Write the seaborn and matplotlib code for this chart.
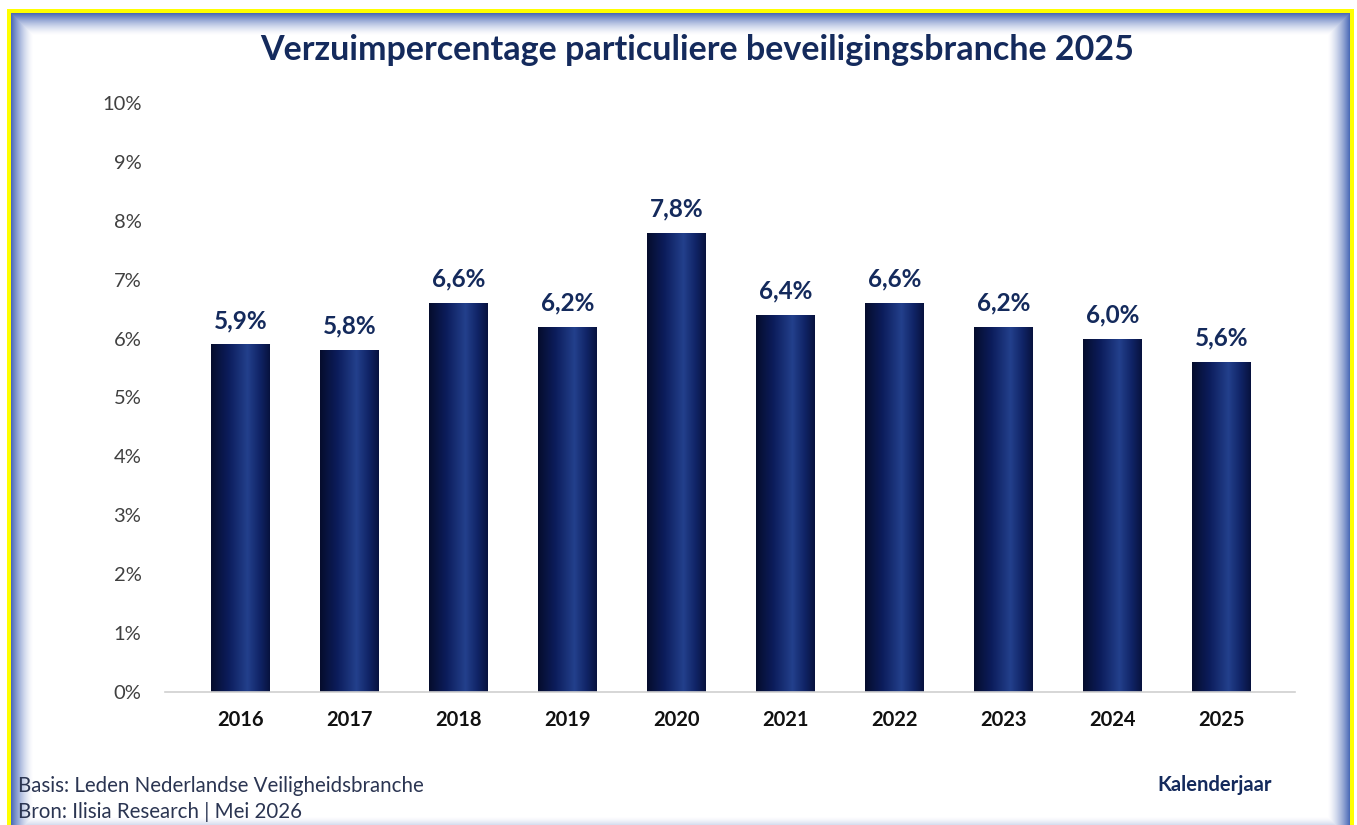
import numpy as np
import pandas as pd
import matplotlib
matplotlib.use("Agg")
import matplotlib.pyplot as plt
import seaborn as sns
from matplotlib.colors import LinearSegmentedColormap

years = ["2016", "2017", "2018", "2019", "2020", "2021", "2022", "2023", "2024", "2025"]
values = [5.9, 5.8, 6.6, 6.2, 7.8, 6.4, 6.6, 6.2, 6.0, 5.6]
value_labels = ["5,9%", "5,8%", "6,6%", "6,2%", "7,8%", "6,4%", "6,6%", "6,2%", "6,0%", "5,6%"]
yticks = [0, 1, 2, 3, 4, 5, 6, 7, 8, 9, 10]
ytick_labels = [f"{t}%" for t in yticks]
title = "Verzuimpercentage particuliere beveiligingsbranche 2025"
footer1 = "Basis: Leden Nederlandse Veiligheidsbranche"
footer2 = "Bron: Ilisia Research | Mei 2026"
xlabel = "Kalenderjaar"

NAVY = "#0d1f60"
TITLE_C = "#142a5c"

sns.set_theme(style="white")
plt.rcParams["font.family"] = ["Lato", "DejaVu Sans"]

W, H = 1357, 825
fig = plt.figure(figsize=(W / 100, H / 100), dpi=100)
fig.patch.set_facecolor("white")

# ---- background frame (yellow border + inner blue shadow) ----
bg = np.ones((H, W, 3))
yy, xx = np.mgrid[0:H, 0:W]
left, top, right, bottom = 11, 13, 1349, 838
inside = (xx >= left) & (xx <= right) & (yy >= top) & (yy <= bottom)
d = np.minimum.reduce([xx - left, yy - top, right - xx, bottom - yy]).astype(float)
shadow = np.array([0.30, 0.42, 0.72])
w = np.clip(1 - d / 22.0, 0, 1) ** 1.5
for c in range(3):
    bg[..., c] = np.where(inside, 1 - w * (1 - shadow[c]), bg[..., c])
yellow = np.array([1.0, 1.0, 0.0])
outer = (xx >= left - 4) & (xx <= right + 4) & (yy >= top - 4) & (yy <= bottom + 4) & ~inside
bg[outer] = yellow
bax = fig.add_axes([0, 0, 1, 1], zorder=0)
bax.imshow(bg, aspect="auto", extent=(0, W, H, 0))
bax.set_axis_off()

# ---- main axes ----
ax = fig.add_axes([165 / W, (H - 692) / H, (1295 - 165) / W, (692 - 103) / H], zorder=1)
ax.patch.set_alpha(0)
df = pd.DataFrame({"year": years, "value": values})
sns.barplot(data=df, x="year", y="value", color=NAVY, width=0.54, ax=ax, saturation=1)

# cylinder-like horizontal gradient inside each bar
cmap = LinearSegmentedColormap.from_list(
    "cyl", [(0.0, "#050c2c"), (0.3, "#0c1d5c"), (0.62, "#23408c"),
            (0.82, "#112568"), (1.0, "#07123e")])
grad = np.linspace(0, 1, 256).reshape(1, -1)
for p in ax.patches:
    x0, y0 = p.get_x(), p.get_y()
    im = ax.imshow(grad, cmap=cmap, aspect="auto",
                   extent=(x0, x0 + p.get_width(), y0, y0 + p.get_height()),
                   zorder=p.get_zorder() + 0.1)
    im.set_clip_path(p)
ax.set_xlim(-0.69, 9.67)
ax.set_ylim(0, 10)

for i, (v, lab) in enumerate(zip(values, value_labels)):
    ax.annotate(lab, (i, v), xytext=(0, 9), textcoords="offset points",
                ha="center", va="bottom", fontsize=17.5, fontweight="bold", color=TITLE_C)

ax.set_yticks(yticks)
ax.set_yticklabels(ytick_labels, fontsize=14.5, color="#404040")
ax.set_xticks(range(len(years)))
ax.set_xticklabels(years, fontsize=14.5, fontweight="bold", color="#111111")
ax.tick_params(axis="y", length=0, pad=17)
ax.tick_params(axis="x", length=0, pad=13)
ax.set_xlabel("")
ax.set_ylabel("")
for s in ["top", "right", "left"]:
    ax.spines[s].set_visible(False)
ax.spines["bottom"].set_color("#d0d0d0")
ax.spines["bottom"].set_linewidth(1.2)
ax.grid(False)

fig.text(697 / W, (H - 50) / H, title, ha="center", va="center",
         fontsize=24.5, fontweight="bold", color=TITLE_C)
fig.text(18 / W, (H - 786) / H, footer1, ha="left", va="center", fontsize=14.8, color="#2b3552")
fig.text(18 / W, (H - 812) / H, footer2, ha="left", va="center", fontsize=14.8, color="#2b3552")
fig.text(1215 / W, (H - 785) / H, xlabel, ha="center", va="center",
         fontsize=14.5, fontweight="bold", color=TITLE_C)

fig.savefig("out.png", dpi=100)
